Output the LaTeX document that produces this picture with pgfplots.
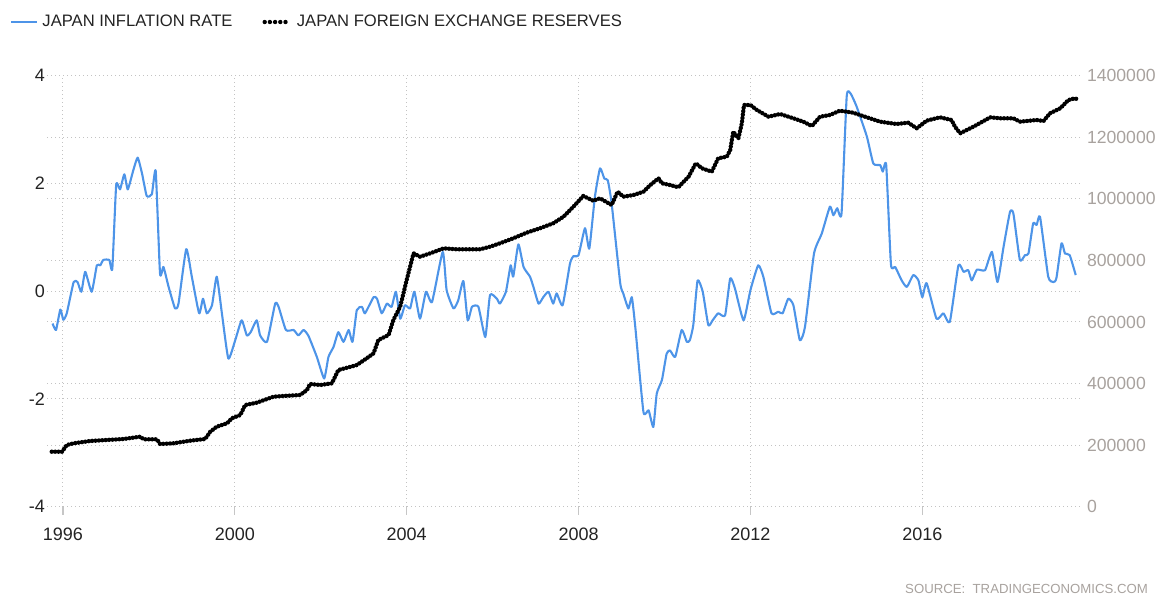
\documentclass[border=0pt]{standalone}
\usepackage{pgfplots}
\pgfplotsset{compat=1.18}
\usepackage{fontspec}
\setmainfont{Liberation Sans}
\definecolor{infl}{RGB}{77,148,232}
\definecolor{rlab}{RGB}{168,162,158}
\definecolor{gridc}{RGB}{195,195,195}
\definecolor{txt}{RGB}{35,35,35}

\pgfplotstableread{
year val
1995.76 -0.60
1995.84 -0.72
1995.94 -0.34
1996.01 -0.53
1996.09 -0.41
1996.25 0.17
1996.34 0.17
1996.43 -0.01
1996.52 0.36
1996.67 -0.01
1996.79 0.48
1996.87 0.48
1996.94 0.58
1997.08 0.58
1997.15 0.42
1997.24 1.97
1997.33 1.89
1997.43 2.17
1997.51 1.89
1997.64 2.25
1997.74 2.48
1997.84 2.19
1997.95 1.77
1998.07 1.80
1998.16 2.23
1998.26 0.33
1998.34 0.45
1998.46 0.08
1998.61 -0.32
1998.69 -0.23
1998.87 0.78
1999.00 0.27
1999.17 -0.41
1999.26 -0.14
1999.35 -0.41
1999.47 -0.26
1999.58 0.27
1999.70 -0.41
1999.85 -1.25
2000.01 -0.91
2000.16 -0.54
2000.28 -0.82
2000.37 -0.76
2000.51 -0.54
2000.59 -0.82
2000.75 -0.94
2000.94 -0.23
2001.02 -0.29
2001.19 -0.72
2001.37 -0.72
2001.48 -0.82
2001.60 -0.72
2001.71 -0.82
2001.91 -1.22
2002.08 -1.62
2002.18 -1.22
2002.30 -1.03
2002.41 -0.76
2002.53 -0.94
2002.65 -0.72
2002.74 -0.94
2002.84 -0.35
2002.96 -0.29
2003.03 -0.41
2003.23 -0.11
2003.31 -0.14
2003.42 -0.41
2003.54 -0.23
2003.65 -0.29
2003.75 -0.01
2003.85 -0.51
2003.96 -0.26
2004.08 -0.32
2004.18 -0.01
2004.31 -0.51
2004.45 -0.01
2004.59 -0.20
2004.84 0.73
2004.93 0.02
2005.09 -0.32
2005.20 -0.17
2005.32 0.19
2005.42 -0.54
2005.52 -0.29
2005.67 -0.29
2005.83 -0.85
2005.94 -0.07
2006.10 -0.14
2006.17 -0.23
2006.31 -0.01
2006.42 0.48
2006.48 0.27
2006.60 0.87
2006.72 0.45
2006.87 0.27
2006.95 0.08
2007.07 -0.23
2007.18 -0.11
2007.30 -0.01
2007.41 -0.23
2007.49 -0.04
2007.63 -0.26
2007.80 0.51
2007.88 0.65
2008.00 0.67
2008.15 1.17
2008.25 0.79
2008.38 1.75
2008.50 2.28
2008.60 2.09
2008.68 2.06
2008.77 1.63
2008.97 0.15
2009.04 -0.04
2009.16 -0.32
2009.24 -0.11
2009.32 -0.66
2009.51 -2.24
2009.63 -2.21
2009.74 -2.52
2009.82 -1.90
2009.94 -1.65
2010.05 -1.16
2010.13 -1.10
2010.25 -1.22
2010.40 -0.72
2010.52 -0.94
2010.59 -0.91
2010.67 -0.63
2010.77 0.20
2010.89 -0.01
2011.02 -0.63
2011.12 -0.54
2011.25 -0.41
2011.41 -0.45
2011.53 0.24
2011.64 0.05
2011.84 -0.54
2012.00 0.02
2012.18 0.48
2012.30 0.27
2012.49 -0.41
2012.65 -0.38
2012.75 -0.41
2012.88 -0.14
2013.00 -0.26
2013.15 -0.91
2013.27 -0.66
2013.48 0.70
2013.66 1.07
2013.85 1.57
2013.93 1.41
2014.02 1.54
2014.12 1.44
2014.24 3.61
2014.33 3.67
2014.47 3.43
2014.71 2.87
2014.86 2.37
2015.02 2.34
2015.08 2.22
2015.16 2.34
2015.27 0.50
2015.37 0.45
2015.52 0.20
2015.64 0.08
2015.79 0.30
2015.91 0.20
2016.00 -0.11
2016.10 0.15
2016.33 -0.51
2016.49 -0.41
2016.64 -0.57
2016.84 0.48
2016.96 0.36
2017.07 0.39
2017.15 0.20
2017.27 0.40
2017.46 0.39
2017.62 0.73
2017.75 0.17
2017.89 0.82
2018.04 1.47
2018.12 1.44
2018.27 0.58
2018.39 0.67
2018.47 0.70
2018.58 1.26
2018.66 1.23
2018.74 1.38
2018.93 0.27
2019.05 0.17
2019.12 0.24
2019.24 0.89
2019.32 0.70
2019.43 0.67
2019.57 0.30
}\inflation

\pgfplotstableread{
year val
1995.74 178700
1995.98 178700
1996.09 200400
1996.25 205900
1996.63 213400
1997.02 216700
1997.41 219900
1997.80 227400
1997.88 218900
1998.19 218900
1998.26 203700
1998.57 205900
1998.96 214400
1999.31 219900
1999.43 243600
1999.58 259900
1999.82 270900
1999.93 287100
2000.13 297900
2000.24 330300
2000.51 337800
2000.90 357300
2001.13 359600
2001.52 362800
2001.68 379000
2001.75 398600
2001.99 395300
2002.26 400800
2002.41 444000
2002.76 457000
2002.84 460300
2003.07 482000
2003.23 498300
2003.34 541500
2003.58 557700
2003.69 606400
2003.85 649700
2004.00 736400
2004.16 823100
2004.31 812100
2004.55 823100
2004.86 839300
2005.17 836100
2005.48 836100
2005.71 836100
2005.94 844500
2006.17 855600
2006.48 871800
2006.79 890000
2007.10 904300
2007.41 920600
2007.65 942000
2007.88 974500
2008.11 1009300
2008.34 994000
2008.50 1001800
2008.77 980000
2008.91 1023200
2009.04 1007000
2009.28 1012500
2009.51 1023200
2009.67 1044900
2009.86 1066800
2009.94 1050500
2010.13 1044900
2010.32 1037500
2010.56 1071900
2010.73 1115400
2010.87 1099300
2011.10 1088200
2011.25 1131700
2011.45 1137000
2011.53 1158700
2011.60 1218100
2011.72 1196600
2011.80 1245400
2011.85 1304800
2012.00 1304800
2012.15 1288600
2012.42 1266800
2012.69 1275600
2013.00 1261600
2013.23 1250600
2013.43 1236600
2013.62 1266800
2013.85 1272300
2014.08 1286300
2014.39 1279800
2014.71 1264800
2015.02 1250600
2015.40 1243100
2015.67 1247400
2015.87 1229200
2016.10 1253900
2016.41 1264800
2016.68 1256100
2016.76 1234400
2016.88 1212900
2017.19 1234400
2017.58 1264800
2017.81 1261600
2018.12 1261600
2018.27 1250600
2018.66 1256100
2018.82 1252800
2018.97 1277800
2019.21 1294100
2019.40 1321000
2019.55 1326600
2019.65 1321000
}\reserves

\begin{document}
\begin{tikzpicture}
\useasboundingbox (0,0) rectangle (580.5pt,298pt);
\begin{axis}[
  at={(23.5pt,44.65pt)}, anchor=south west,
  scale only axis, width=516.5pt, height=215.5pt,
  xmin=1995.63, xmax=2019.67, ymin=-4, ymax=4,
  axis line style={draw=none},
  xtick={1996,2000,2004,2008,2012,2016},
  ytick={-4,-2,0,2,4},
  extra y ticks={-2.857143,-1.714286,-0.571429,0.571429,1.714286,2.857143},
  extra y tick labels={},
  extra y tick style={grid=major, major tick length=0pt, tick style={draw=none}},
  tick pos=left,
  tick align=outside,
  major tick length=4pt,
  xtick style={draw=gray!45, line width=0.6pt},
  ytick style={draw=none},
  grid=major,
  major grid style={gridc, line width=0.5pt, dash pattern=on 0.6pt off 1.4pt},
  /pgf/number format/1000 sep={},
  /pgf/number format/assume math mode=true,
  ticklabel style={font=\fontsize{9}{10}\selectfont, text=txt},
  xticklabel style={yshift=-3pt},
  yticklabel style={xshift=6.5pt},
  legend style={draw=none, fill=none, at={(axis description cs:0,1)}, anchor=west,
    xshift=-18.5pt, yshift=26.85pt, legend columns=2,
    font=\fontsize{8.3}{10}\selectfont, text=txt, inner sep=0pt,
    /tikz/every even column/.append style={column sep=13pt}},
  legend image code/.code={\draw[#1] (0pt,0pt) -- (13pt,0pt);},
]
\addplot[infl, line width=1.05pt, line join=round, smooth, tension=0.3] table[x=year, y=val] {\inflation};
\addlegendentry{JAPAN INFLATION RATE}
\addlegendimage{black, line width=2.2pt, line cap=round, dash pattern=on 0pt off 2.6pt}
\addlegendentry{JAPAN FOREIGN EXCHANGE RESERVES}
\end{axis}
\begin{axis}[
  at={(23.5pt,44.65pt)}, anchor=south west,
  scale only axis, width=516.5pt, height=215.5pt,
  xmin=1995.63, xmax=2019.67, ymin=0, ymax=1400000,
  axis line style={draw=none},
  xtick=\empty,
  ytick={0,200000,400000,600000,800000,1000000,1200000,1400000},
  yticklabel pos=right,
  ytick style={draw=none},
  scaled y ticks=false,
  /pgf/number format/fixed,
  /pgf/number format/1000 sep={},
  /pgf/number format/assume math mode=true,
  yticklabel style={font=\fontsize{8.8}{10}\selectfont, text=rlab},
]
\addplot[black, line width=2.2pt, line cap=round, dash pattern=on 0pt off 1.7pt] table[x=year, y=val] {\reserves};
\end{axis}
\node[anchor=east, font=\fontsize{6.6}{8}\selectfont, text=rlab] at (577.5pt,3.5pt) {SOURCE:\ \ TRADINGECONOMICS.COM};
\end{tikzpicture}
\end{document}
